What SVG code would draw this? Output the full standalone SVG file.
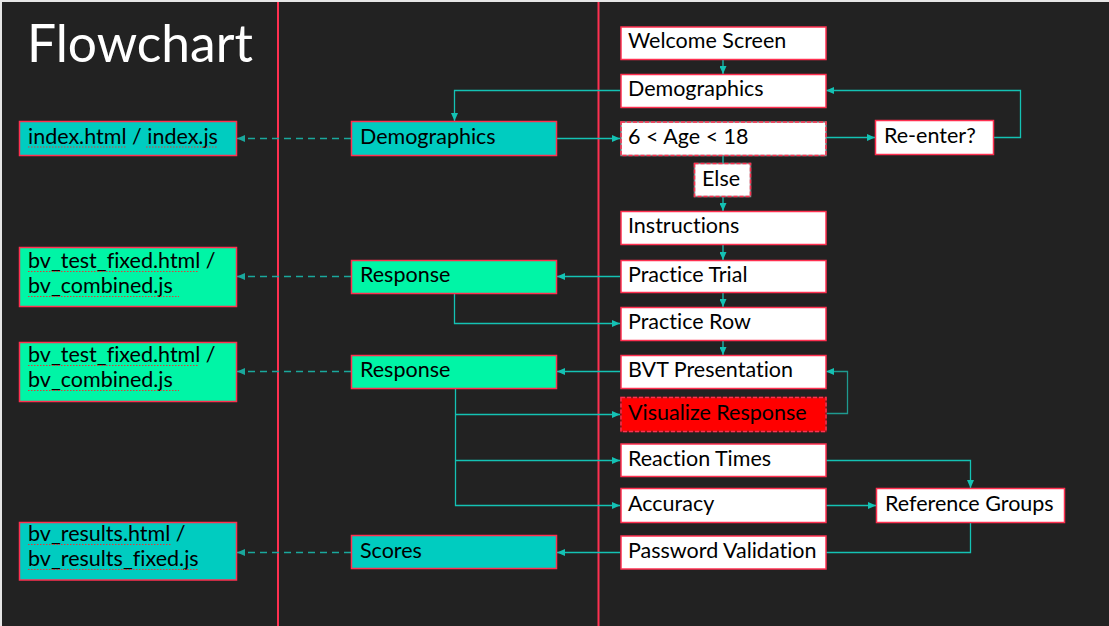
<svg xmlns="http://www.w3.org/2000/svg" width="1109" height="626" viewBox="0 0 1109 626">
<style>
.bx{stroke:#ff3050;stroke-width:1.5}
.w{fill:#ffffff}
.teal{fill:#00ccc0}
.mint{fill:#00f5a6}
.dsh{stroke-dasharray:4 2}
.t{font-family:Lato,"Noto Sans",sans-serif;font-size:21.5px;fill:#000000;font-variant-ligatures:none}
.c{fill:none;stroke:#14c2b4;stroke-width:1.3}
.cd{fill:none;stroke:#1aa89d;stroke-width:1.3;stroke-dasharray:7 5}
.ul{fill:none;stroke:#e23a3a;stroke-width:1;stroke-dasharray:1.5 1.5}
</style>
<defs>
<marker id="ah" viewBox="0 0 8 7" markerWidth="8" markerHeight="7" refX="8" refY="3.5" orient="auto" markerUnits="userSpaceOnUse">
<path d="M0,0 L8,3.5 L0,7 z" fill="#14c2b4"/>
</marker>
<marker id="ahd" viewBox="0 0 8 7" markerWidth="8" markerHeight="7" refX="8" refY="3.5" orient="auto" markerUnits="userSpaceOnUse">
<path d="M0,0 L8,3.5 L0,7 z" fill="#1aa89d"/>
</marker>
</defs>
<rect x="0" y="0" width="1109" height="626" fill="#e6e6e6"/>
<rect x="2" y="2" width="1107" height="624" fill="#222222"/>
<line x1="278" y1="2" x2="278" y2="626" stroke="#ff3050" stroke-width="2"/>
<line x1="598.5" y1="2" x2="598.5" y2="626" stroke="#ff3050" stroke-width="2"/>
<text x="27" y="62" font-family="Lato,'Noto Sans',sans-serif" font-size="51.5" fill="#ffffff">Flowchart</text>

<g id="connectors">
<path class="c" d="M723,59.5 V74" marker-end="url(#ah)"/>
<path class="c" d="M620,90.5 H454.5 V121" marker-end="url(#ah)"/>
<path class="c" d="M557,138.5 H620" marker-end="url(#ah)"/>
<path class="cd" d="M351,138.5 H237" marker-end="url(#ahd)"/>
<path class="c" d="M826,137.5 H875" marker-end="url(#ah)"/>
<path class="c" d="M993,137.5 H1020.5 V90.5 H826" marker-end="url(#ah)"/>
<path class="c" d="M723,155.5 V163"/>
<path class="c" d="M723,197 V211" marker-end="url(#ah)"/>
<path class="c" d="M723,244 V260" marker-end="url(#ah)"/>
<path class="c" d="M723,292.5 V307" marker-end="url(#ah)"/>
<path class="c" d="M620,276.5 H557" marker-end="url(#ah)"/>
<path class="cd" d="M351,276.5 H237" marker-end="url(#ahd)"/>
<path class="c" d="M454.5,293.5 V323.5 H620" marker-end="url(#ah)"/>
<path class="c" d="M723,340 V355" marker-end="url(#ah)"/>
<path class="c" d="M620,371.5 H557" marker-end="url(#ah)"/>
<path class="cd" d="M351,371.5 H237" marker-end="url(#ahd)"/>
<path class="c" d="M455.5,388.5 V505.5 H620" marker-end="url(#ah)"/>
<path class="c" d="M455.5,414.5 H620" marker-end="url(#ah)"/>
<path class="c" d="M455.5,460.5 H620" marker-end="url(#ah)"/>
<path class="c" d="M826,413.5 H847.5 V371.5 H826" style="stroke:#1f9a90" marker-end="url(#ah)"/>
<path class="c" d="M826,460.5 H970.5 V488" marker-end="url(#ah)"/>
<path class="c" d="M826,505.5 H876" marker-end="url(#ah)"/>
<path class="c" d="M970.5,522.5 V552.5 H826"/>
<path class="c" d="M620,552.5 H557" marker-end="url(#ah)"/>
<path class="cd" d="M351,552.5 H237" marker-end="url(#ahd)"/>
</g>

<g id="n-index">
<rect class="bx teal" x="19.5" y="121.5" width="217" height="34"/>
<text class="t" x="28" y="144">index.html / index.js</text>
<path class="ul" d="M28,147 H126 M146,147 H217"/>
</g>
<g id="n-bvtest1">
<rect class="bx mint" x="19.5" y="247.5" width="217" height="59"/>
<text class="t" x="28" y="268">bv_test_fixed.html /</text>
<text class="t" x="28" y="293">bv_combined.js</text>
<path class="ul" d="M28,271.5 H199 M28,296.5 H179"/>
</g>
<g id="n-bvtest2">
<rect class="bx mint" x="19.5" y="342.5" width="217" height="59"/>
<text class="t" x="28" y="362">bv_test_fixed.html /</text>
<text class="t" x="28" y="387">bv_combined.js</text>
<path class="ul" d="M28,365.5 H199 M28,390.5 H179"/>
</g>
<g id="n-bvresults">
<rect class="bx teal" x="19.5" y="522.5" width="217" height="57.5"/>
<text class="t" x="28" y="541">bv_results.html /</text>
<text class="t" x="28" y="566">bv_results_fixed.js</text>
<path class="ul" d="M28,544.5 H171 M28,569.5 H199"/>
</g>

<g id="n-mdemo">
<rect class="bx teal" x="351.5" y="121.5" width="205" height="34"/>
<text class="t" x="360" y="143.5">Demographics</text>
</g>
<g id="n-mresp1">
<rect class="bx mint" x="351.5" y="260.5" width="205" height="33"/>
<text class="t" x="360" y="282">Response</text>
</g>
<g id="n-mresp2">
<rect class="bx mint" x="351.5" y="355.5" width="205" height="33"/>
<text class="t" x="360" y="377">Response</text>
</g>
<g id="n-mscores">
<rect class="bx teal" x="351.5" y="535.5" width="205" height="33"/>
<text class="t" x="360" y="558">Scores</text>
</g>

<g id="n-welcome">
<rect class="bx w" x="621" y="27" width="205" height="32.5"/>
<text class="t" x="628" y="48">Welcome Screen</text>
</g>
<g id="n-demo">
<rect class="bx w" x="621" y="74.5" width="205" height="33"/>
<text class="t" x="628" y="96">Demographics</text>
</g>
<g id="n-age">
<rect x="621" y="122" width="205" height="33.5" fill="#ffffff" stroke="#8a8a8a" stroke-width="1.5"/>
<rect class="bx dsh" x="621" y="122" width="205" height="33.5" fill="none"/>
<text class="t" x="628" y="143.5">6 &lt; Age &lt; 18</text>
</g>
<g id="n-else">
<rect x="694.5" y="163.5" width="56" height="33" fill="#ffffff" stroke="#8a8a8a" stroke-width="1.5"/>
<rect class="bx dsh" x="694.5" y="163.5" width="56" height="33" fill="none"/>
<text class="t" x="702" y="186">Else</text>
</g>
<g id="n-instr">
<rect class="bx w" x="621" y="211.5" width="205" height="33"/>
<text class="t" x="628" y="233">Instructions</text>
</g>
<g id="n-ptrial">
<rect class="bx w" x="621" y="260.5" width="205" height="32"/>
<text class="t" x="628" y="281.5">Practice Trial</text>
</g>
<g id="n-prow">
<rect class="bx w" x="621" y="307.5" width="205" height="33"/>
<text class="t" x="628" y="329">Practice Row</text>
</g>
<g id="n-bvt">
<rect class="bx w" x="621" y="355.5" width="205" height="33"/>
<text class="t" x="628" y="377">BVT Presentation</text>
</g>
<g id="n-vis">
<rect x="621" y="397.5" width="205" height="34" fill="#ff0000" stroke="#8a1a1a" stroke-width="1.5"/>
<rect class="bx dsh" x="621" y="397.5" width="205" height="34" fill="none"/>
<text class="t" x="628" y="420">Visualize Response</text>
</g>
<g id="n-rt">
<rect class="bx w" x="621" y="444" width="205" height="32.5"/>
<text class="t" x="628" y="466">Reaction Times</text>
</g>
<g id="n-acc">
<rect class="bx w" x="621" y="488.5" width="205" height="34"/>
<text class="t" x="628" y="511">Accuracy</text>
</g>
<g id="n-pw">
<rect class="bx w" x="621" y="536" width="205" height="33"/>
<text class="t" x="628" y="558">Password Validation</text>
</g>
<g id="n-reenter">
<rect class="bx w" x="875.5" y="120.5" width="118" height="34"/>
<text class="t" x="884" y="142.5">Re-enter?</text>
</g>
<g id="n-refgroups">
<rect class="bx w" x="876.5" y="488.5" width="188" height="34"/>
<text class="t" x="885" y="511">Reference Groups</text>
</g>
</svg>
